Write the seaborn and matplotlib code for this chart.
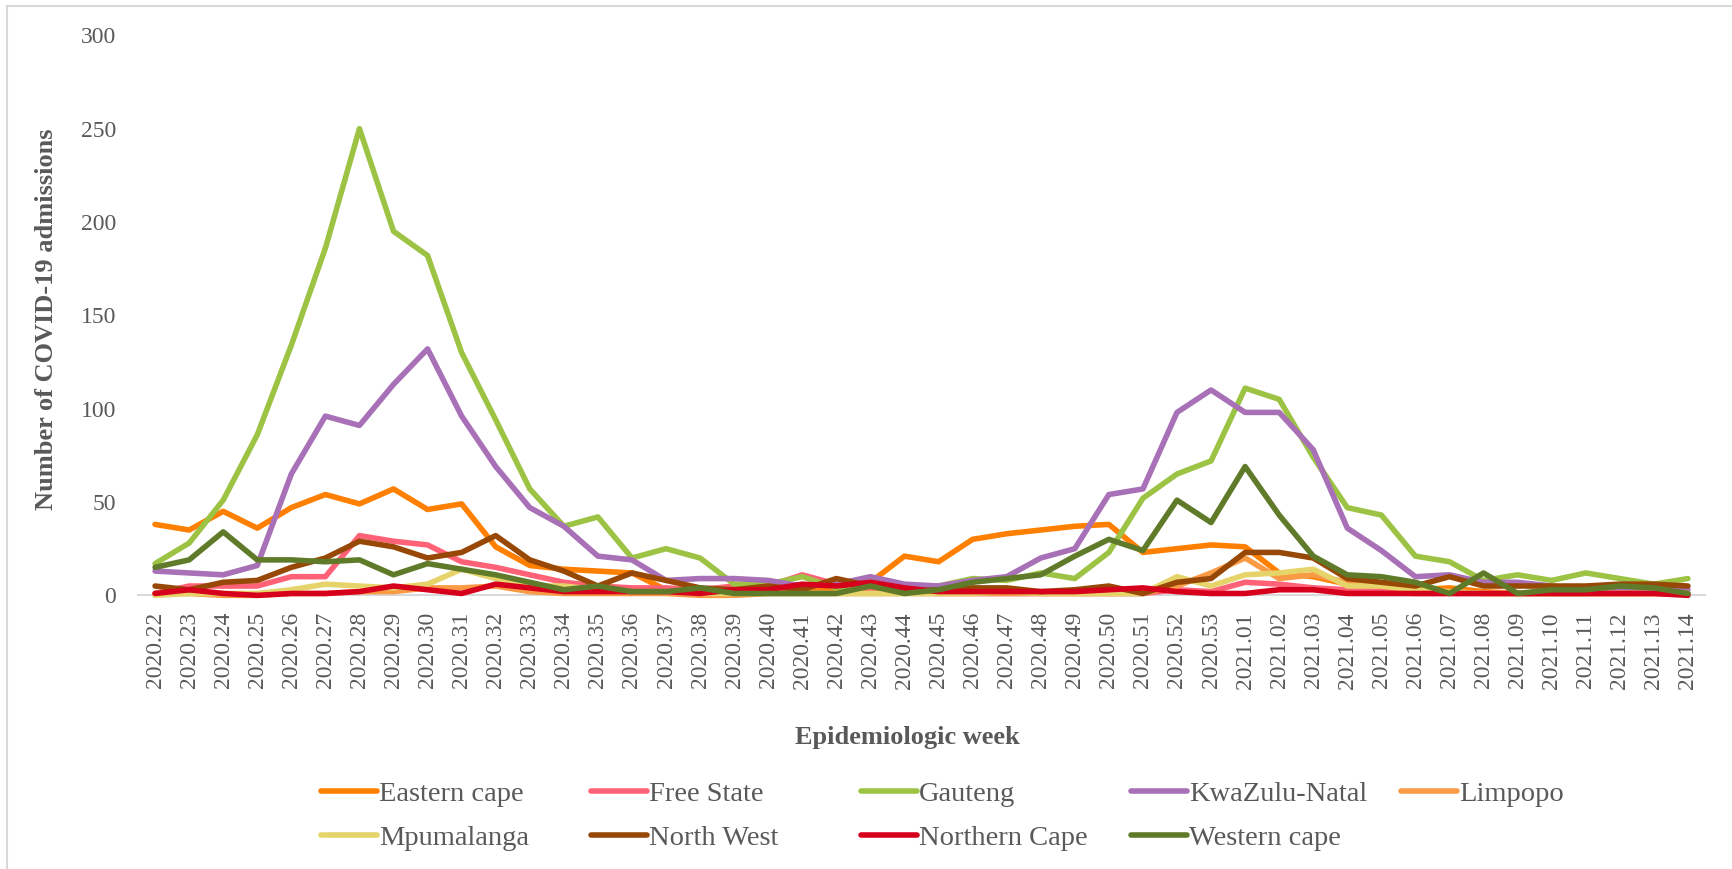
import numpy as np
import pandas as pd
import matplotlib
matplotlib.use("Agg")
import matplotlib.pyplot as plt
from matplotlib.lines import Line2D
import seaborn as sns

# weekly COVID-19 admissions per province
weeks = [f"2020.{w}" for w in range(22, 54)] + [f"2021.{w:02d}" for w in range(1, 15)]

eastern_cape = [38, 35, 45, 36, 47, 54, 49, 57, 46, 49, 26, 16, 14, 13, 12, 3, 2, 1, 2, 2, 3, 7, 21,
                18, 30, 33, 35, 37, 38, 23, 25, 27, 26, 12, 10, 6, 5, 3, 4, 2, 1, 1, 1, 1, 1, 1]
free_state = [1, 5, 5, 5, 10, 10, 32, 29, 27, 18, 15, 11, 7, 5, 4, 4, 3, 5, 5, 11, 6, 3, 2,
              1, 1, 1, 1, 1, 1, 1, 3, 2, 7, 6, 4, 3, 2, 1, 1, 1, 1, 1, 1, 1, 1, 1]
gauteng = [17, 28, 51, 86, 134, 186, 250, 195, 182, 130, 94, 57, 37, 42, 20, 25, 20, 6, 6, 10, 4, 5, 5,
           5, 9, 8, 12, 9, 23, 52, 65, 72, 111, 105, 74, 47, 43, 21, 18, 8, 11, 8, 12, 9, 6, 9]
kwazulu_natal = [13, 12, 11, 16, 65, 96, 91, 113, 132, 96, 69, 47, 37, 21, 19, 8, 9, 9, 8, 5, 6, 10, 6,
                 5, 8, 10, 20, 25, 54, 57, 98, 110, 98, 98, 78, 36, 24, 10, 11, 7, 7, 5, 3, 3, 3, 3]
limpopo = [1, 1, 0, 0, 1, 1, 2, 2, 4, 4, 5, 2, 1, 1, 1, 1, 0, 0, 1, 1, 1, 1, 1,
           1, 1, 1, 1, 1, 1, 1, 5, 12, 20, 9, 11, 7, 5, 3, 2, 1, 1, 1, 1, 1, 1, 1]
mpumalanga = [0, 1, 1, 1, 3, 6, 5, 4, 6, 14, 9, 5, 5, 3, 2, 2, 1, 1, 1, 1, 1, 1, 1,
              1, 1, 2, 1, 1, 1, 1, 10, 5, 11, 12, 14, 5, 5, 3, 2, 1, 1, 1, 1, 1, 1, 1]
north_west = [5, 3, 7, 8, 15, 20, 29, 26, 20, 23, 32, 19, 13, 5, 12, 8, 4, 3, 5, 3, 9, 5, 2,
              3, 4, 4, 2, 3, 5, 1, 7, 9, 23, 23, 20, 9, 7, 5, 10, 5, 5, 5, 5, 6, 6, 5]
northern_cape = [1, 3, 1, 0, 1, 1, 2, 5, 3, 1, 6, 4, 2, 2, 2, 2, 1, 3, 3, 6, 5, 7, 4,
                 2, 2, 2, 2, 2, 3, 4, 2, 1, 1, 3, 3, 1, 1, 1, 1, 1, 1, 1, 1, 1, 1, 0]
western_cape = [15, 19, 34, 19, 19, 18, 19, 11, 17, 14, 11, 7, 3, 5, 2, 2, 4, 1, 1, 1, 1, 5, 1,
                3, 7, 9, 11, 21, 30, 24, 51, 39, 69, 43, 21, 11, 10, 7, 1, 12, 1, 3, 3, 5, 4, 1]

provinces = ["Eastern cape", "Free State", "Gauteng", "KwaZulu-Natal", "Limpopo",
             "Mpumalanga", "North West", "Northern Cape", "Western cape"]
series = [eastern_cape, free_state, gauteng, kwazulu_natal, limpopo,
          mpumalanga, north_west, northern_cape, western_cape]
colors = ["#FF7F00", "#FF6276", "#9DC345", "#A870B6", "#F99A45",
          "#E6D46A", "#974806", "#D6001C", "#5F7B2A"]
palette = dict(zip(provinces, colors))

df = pd.concat([pd.DataFrame({"week": weeks, "admissions": vals, "province": name})
                for name, vals in zip(provinces, series)], ignore_index=True)

sns.set_theme(style="white")
plt.rcParams["font.family"] = ["Liberation Serif", "DejaVu Serif"]
text_color = "#595959"

fig = plt.figure(figsize=(17.32, 8.69), dpi=100)
ax = fig.add_axes([0.0797, 0.3149, 0.9047, 0.6445])

sns.lineplot(data=df, x="week", y="admissions", hue="province", hue_order=provinces,
             palette=palette, linewidth=4, legend=False, ax=ax, sort=False)
for line in ax.lines:
    line.set_solid_capstyle("round")
    line.set_solid_joinstyle("round")
    line.set_clip_on(False)

ax.set_xlim(-0.5, len(weeks) - 0.5)
ax.set_ylim(0, 300)
ax.set_yticks(np.arange(0, 301, 50))
ax.tick_params(axis="both", length=0, labelsize=17, colors=text_color)
ax.tick_params(axis="y", pad=16)
ax.tick_params(axis="x", pad=12, labelrotation=90)
for side in ["left", "top", "right"]:
    ax.spines[side].set_visible(False)
ax.spines["bottom"].set_color("#D9D9D9")
ax.spines["bottom"].set_linewidth(1.5)
ax.spines["bottom"].set_zorder(0)
ax.grid(False)

ax.set_xlabel("Epidemiologic week", fontsize=19, fontweight="bold", color=text_color, va="center")
ax.xaxis.set_label_coords(0.491, -0.2546)
ax.set_ylabel("Number of COVID-19 admissions", fontsize=19, fontweight="bold", color=text_color, va="center")
ax.yaxis.set_label_coords(-0.0587, 0.4935)

# legend laid out like Excel: equal-width columns, two rows
legend_cols = [["Eastern cape", "Mpumalanga"], ["Free State", "North West"],
               ["Gauteng", "Northern Cape"], ["KwaZulu-Natal", "Western cape"], ["Limpopo"]]
for j, names in enumerate(legend_cols):
    handles = [Line2D([], [], color=palette[n], lw=4, solid_capstyle="round") for n in names]
    leg = fig.legend(handles, names, loc="upper left",
                     bbox_to_anchor=((321 + 270 * j) / 1732, 1 - 781 / 869),
                     frameon=False, borderaxespad=0, borderpad=0, fontsize=20.5,
                     handlelength=1.95, handletextpad=0.1, labelspacing=0.62)
    for t in leg.get_texts():
        t.set_color(text_color)

# chart-area border (only left and top edges survive in the original crop)
fig.add_artist(Line2D([6.5 / 1732, 6.5 / 1732], [0, 1 - 6 / 869], color="#D9D9D9", lw=1.5))
fig.add_artist(Line2D([6.5 / 1732, 1], [1 - 6 / 869, 1 - 6 / 869], color="#D9D9D9", lw=1.5))

fig.savefig("out.png", dpi=100)
